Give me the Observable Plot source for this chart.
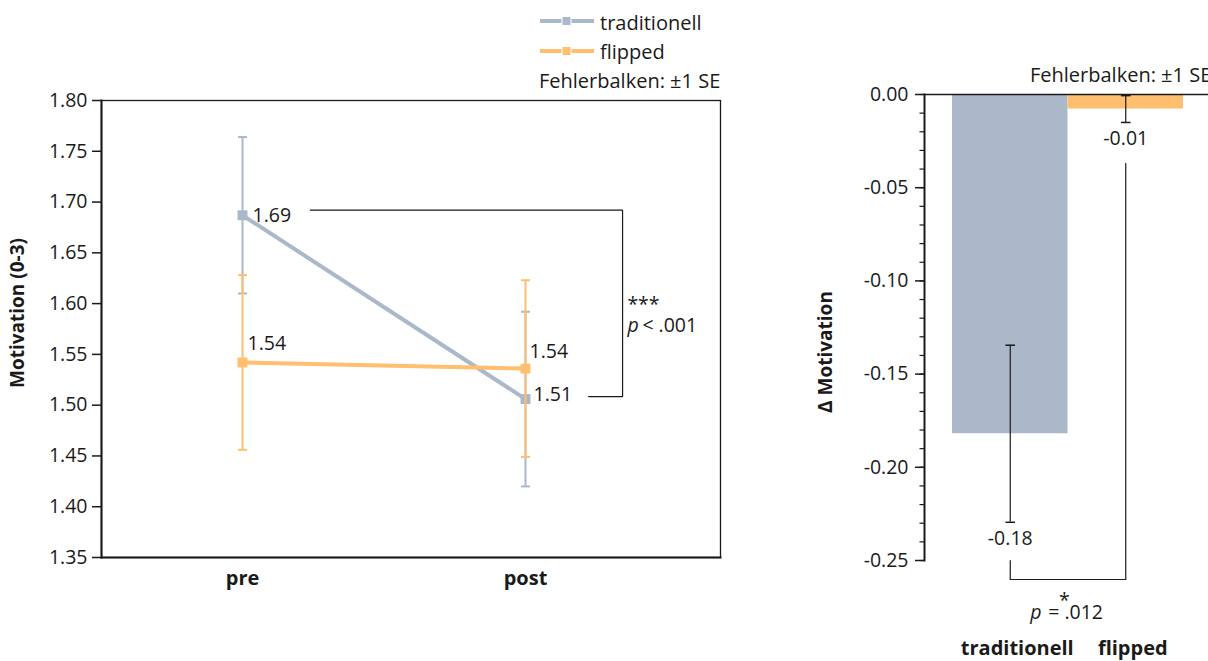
<!DOCTYPE html>
<html><head><meta charset="utf-8">
<script src="https://cdn.jsdelivr.net/npm/d3@7"></script>
<script src="https://cdn.jsdelivr.net/npm/@observablehq/plot@0.6"></script>
<style>
body{margin:0;background:#fff;font-family:"Open Sans",sans-serif;}
#wrap{position:relative;width:1208px;height:661px;overflow:hidden;background:#fff;}
#wrap svg{position:absolute;top:0;overflow:visible;}
.abs{position:absolute;white-space:nowrap;color:#1a1a1a;line-height:1.362;}
</style></head><body><div id="wrap"></div>
<script>
// ---------- data ----------
const phases = ["pre", "post"];
const groups = ["traditionell", "flipped"];
const colors = ["#abb8ca", "#ffbf6f"];
const tradMeans = [1.687, 1.506];
const tradSE = [0.077, 0.086];
const flipMeans = [1.542, 1.536];
const flipSE = [0.086, 0.087];
const deltaMeans = [-0.182, -0.0078];
const deltaSE = [0.0475, 0.0072];
const leftTicks = [1.35, 1.40, 1.45, 1.50, 1.55, 1.60, 1.65, 1.70, 1.75, 1.80];
const rightTicks = [-0.25, -0.20, -0.15, -0.10, -0.05, 0.00];
const rightMinorTicks = d3.range(-25, 1).map(i => i / 100);
const errorNote = "Fehlerbalken: \u00b11 SE";
const sigLeft = ["***", "p", "< .001"];
const sigRight = ["*", "p", "= .012"];

// ---------- tables ----------
const rows = [];
[[tradMeans, tradSE], [flipMeans, flipSE]].forEach(([m, s], g) => {
  phases.forEach((p, i) => rows.push({group: groups[g], phase: p, xi: i, mean: m[i], se: s[i]}));
});
const bars = groups.map((g, i) => ({group: g, i, mean: deltaMeans[i], se: deltaSE[i]}));

const fmt = d => (Math.abs(d) < 1e-9 ? 0 : d).toFixed(2);
const cap = {draw(ctx, size) { const r = Math.sqrt(size / Math.PI); ctx.moveTo(-r, 0); ctx.lineTo(r, 0); }};
const FS = 19.5;
const FB = 20;
const ink = "#1a1a1a";

function seriesMarks(g) {
  const d = rows.filter(r => r.group === g);
  return [
    Plot.ruleX(d, {x: "xi", y1: r => r.mean - r.se, y2: r => r.mean + r.se, stroke: "group", strokeWidth: 2}),
    Plot.dot(d, {x: "xi", y: r => r.mean - r.se, symbol: cap, r: 4.5, stroke: "group", strokeWidth: 2, fill: "none"}),
    Plot.dot(d, {x: "xi", y: r => r.mean + r.se, symbol: cap, r: 4.5, stroke: "group", strokeWidth: 2, fill: "none"}),
    Plot.line(d, {x: "xi", y: "mean", stroke: "group", strokeWidth: 4}),
    Plot.dot(d, {x: "xi", y: "mean", symbol: "square", r: 5.6, fill: "group", stroke: null})
  ];
}
const lab = (g, p) => rows.filter(r => r.group === g && r.phase === p);

const left = Plot.plot({
  width: 760, height: 661,
  marginLeft: 101, marginRight: 40, marginTop: 100, marginBottom: 104,
  style: {fontFamily: "Open Sans", fontSize: FS + "px", color: ink, background: "transparent"},
  x: {domain: [0, 1], range: [242, 525]},
  y: {domain: [1.35, 1.80]},
  color: {domain: groups, range: colors},
  marks: [
    Plot.frame({stroke: ink, strokeWidth: 1.3}),
    Plot.frame({anchor: "left", stroke: ink, strokeWidth: 2}),
    Plot.frame({anchor: "bottom", stroke: ink, strokeWidth: 2}),
    Plot.axisY({ticks: leftTicks, tickFormat: fmt, tickSize: 9, tickPadding: 5, fontSize: FS, label: null, stroke: ink, strokeWidth: 1.5}),
    Plot.axisX({ticks: [0, 1], tickFormat: i => phases[i], tickSize: 0, tickPadding: 13, fontSize: FB, fontWeight: "bold", label: null}),
    ...seriesMarks("traditionell"),
    ...seriesMarks("flipped"),
    Plot.text(lab("traditionell", "pre"), {x: "xi", y: "mean", text: r => fmt(r.mean), dx: 10, textAnchor: "start", fontSize: FS, fill: ink}),
    Plot.text(lab("traditionell", "post"), {x: "xi", y: "mean", text: r => fmt(r.mean), dx: 8, dy: -4, textAnchor: "start", fontSize: FS, fill: ink}),
    Plot.text(lab("flipped", "pre"), {x: "xi", y: "mean", text: r => fmt(r.mean), dx: 5, dy: -19, textAnchor: "start", fontSize: FS, fill: ink}),
    Plot.text(lab("flipped", "post"), {x: "xi", y: "mean", text: r => fmt(r.mean), dx: 4, dy: -17, textAnchor: "start", fontSize: FS, fill: ink}),
    // significance bracket (annotation, data units)
    Plot.line([[0.24, 1.692], [1.343, 1.692], [1.343, 1.5085], [1.223, 1.5085]], {stroke: ink, strokeWidth: 1.2}),
    Plot.text([sigLeft[0]], {x: 1.360, y: 1.5985, text: d => d, textAnchor: "start", fontSize: FS, fill: ink}),
    Plot.text([sigLeft[1]], {x: 1.360, y: 1.578, text: d => d, textAnchor: "start", fontSize: FS, fontStyle: "italic", fill: ink}),
    Plot.text([sigLeft[2]], {x: 1.360, y: 1.578, text: d => d, dx: 15, textAnchor: "start", fontSize: FS, fill: ink})
  ]
});
left.style.left = "0px";

const right = Plot.plot({
  width: 448, height: 661,
  marginLeft: 164, marginRight: 0, marginTop: 94, marginBottom: 101,
  style: {fontFamily: "Open Sans", fontSize: FS + "px", color: ink, background: "transparent"},
  x: {domain: [-0.5, 1.5], range: [192, 423]},
  y: {domain: [-0.25, 0]},
  color: {domain: groups, range: colors},
  marks: [
    Plot.rect(bars, {x1: d => d.i - 0.5, x2: d => d.i + 0.5, y1: 0, y2: "mean", fill: "group"}),
    Plot.ruleY([0], {stroke: ink, strokeWidth: 1.5}),
    Plot.frame({anchor: "left", stroke: ink, strokeWidth: 2}),
    Plot.axisY({ticks: rightTicks, tickFormat: fmt, tickSize: 9, tickPadding: 7, fontSize: FS, label: null, stroke: ink, strokeWidth: 1.5}),
    Plot.axisY({ticks: rightMinorTicks, tickFormat: () => "", tickSize: 4.5, label: null, stroke: ink, strokeWidth: 1.2}),
    Plot.axisX({ticks: [0, 1], tickFormat: i => groups[i], tickSize: 0, tickPadding: 80, dx: 7, fontSize: FB, fontWeight: "bold", label: null}),
    Plot.ruleX(bars, {x: "i", y1: d => d.mean - d.se, y2: d => Math.min(0, d.mean + d.se), stroke: ink, strokeWidth: 1.2}),
    Plot.dot(bars, {x: "i", y: d => d.mean - d.se, symbol: cap, r: 4.8, stroke: ink, strokeWidth: 1.5, fill: "none"}),
    Plot.dot(bars, {x: "i", y: d => d.mean + d.se, symbol: cap, r: 4.8, stroke: ink, strokeWidth: 1.5, fill: "none"}),
    Plot.text(bars, {x: "i", y: d => d.mean - d.se, text: d => fmt(d.mean), dy: 16, fontSize: FS, fill: ink}),
    // significance bracket (annotation, data units)
    Plot.line([[0, -0.25], [0, -0.2602], [1, -0.2602], [1, -0.037]], {stroke: ink, strokeWidth: 1.2}),
    Plot.text([sigRight[0]], {x: 0.468, y: -0.2718, text: d => d, fontSize: FS, fill: ink}),
    Plot.text([sigRight[1]], {x: 0.173, y: -0.2778, text: d => d, textAnchor: "start", fontSize: FS, fontStyle: "italic", fill: ink}),
    Plot.text([sigRight[2]], {x: 0.173, y: -0.2778, text: d => d, dx: 18, textAnchor: "start", fontSize: FS, fill: ink})
  ]
});
right.style.left = "760px";

const wrap = document.getElementById("wrap");
wrap.appendChild(left);
wrap.appendChild(right);

function addText(txt, x, cy, opts = {}) {
  const d = document.createElement("div");
  d.className = "abs";
  const fs = opts.fs || FB;
  d.style.fontSize = fs + "px";
  if (opts.bold) d.style.fontWeight = "bold";
  if (opts.rotate) {
    d.style.left = x + "px";
    d.style.top = cy + "px";
    d.style.transform = "translate(-50%,-50%) rotate(-90deg)";
  } else {
    d.style.left = x + "px";
    d.style.top = (cy - 0.712 * fs) + "px";
  }
  d.textContent = txt;
  wrap.appendChild(d);
  return d;
}
function addSwatch(color, x, cy) {
  const ns = "http://www.w3.org/2000/svg";
  const s = document.createElementNS(ns, "svg");
  s.setAttribute("width", 54); s.setAttribute("height", 12);
  s.style.position = "absolute"; s.style.left = x + "px"; s.style.top = (cy - 6) + "px";
  const l = document.createElementNS(ns, "line");
  l.setAttribute("x1", 0); l.setAttribute("x2", 54); l.setAttribute("y1", 6); l.setAttribute("y2", 6);
  l.setAttribute("stroke", color); l.setAttribute("stroke-width", 4);
  const r = document.createElementNS(ns, "rect");
  r.setAttribute("x", 22); r.setAttribute("y", 1.5); r.setAttribute("width", 9); r.setAttribute("height", 9);
  r.setAttribute("fill", color); r.setAttribute("stroke", "#fff"); r.setAttribute("stroke-width", 1);
  s.appendChild(l); s.appendChild(r);
  wrap.appendChild(s);
}
addSwatch(colors[0], 540, 21);
addSwatch(colors[1], 540, 51);
addText(groups[0], 600, 23);
addText(groups[1], 600, 52);
addText(errorNote, 539, 81);
addText(errorNote, 1030, 75);
addText("Motivation (0-3)", 18, 313, {bold: true, rotate: true, fs: 19});
addText("\u0394 Motivation", 826, 352, {bold: true, rotate: true, fs: 19});
</script>
</body></html>
